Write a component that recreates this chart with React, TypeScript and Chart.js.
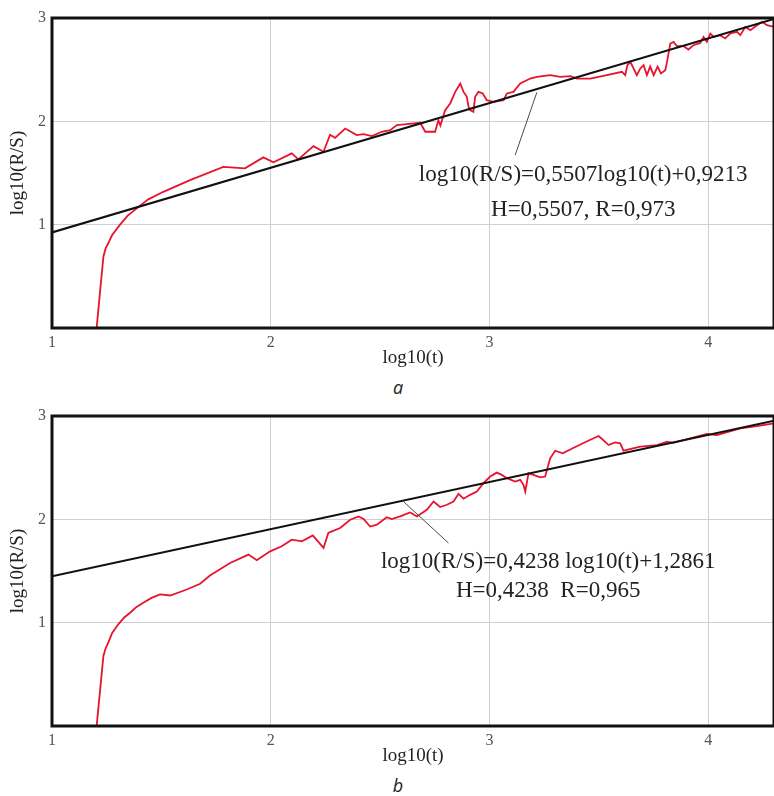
import React, { useEffect, useRef } from "react";
import { Chart, registerables } from "chart.js";

Chart.register(...registerables);

// ---- axes ----
const xTicks = [1, 2, 3, 4];
const yTicks = [0, 1, 2, 3];
const xMin = 1;
const xMax = 4.3;
const yMin = 0;
const yMax = 3;
const xTitle = "log10(t)";
const yTitle = "log10(R/S)";

// ---- panel a ----
const aLogT = [
  1.204, 1.22, 1.235, 1.245, 1.257, 1.275, 1.311, 1.345, 1.387, 1.44, 1.509, 1.631, 1.783, 1.882, 1.966, 2.012, 2.096, 2.126, 2.195, 2.241,
  2.271, 2.294, 2.34, 2.393, 2.424, 2.462, 2.507, 2.546, 2.576, 2.622, 2.683, 2.706, 2.751, 2.766, 2.775,
  2.797, 2.82, 2.843, 2.866, 2.881, 2.896, 2.904, 2.911, 2.926, 2.934, 2.949, 2.969, 2.987, 3.018, 3.064,
  3.079, 3.109, 3.14, 3.186, 3.216, 3.277, 3.323, 3.369, 3.399, 3.46, 3.536, 3.605, 3.62, 3.63, 3.643,
  3.658, 3.673, 3.689, 3.704, 3.719, 3.734, 3.75, 3.768, 3.783, 3.803, 3.811, 3.826, 3.841, 3.856, 3.887,
  3.909, 3.932, 3.963, 3.978, 3.993, 4.009, 4.024, 4.054, 4.077, 4.1, 4.131, 4.146, 4.169, 4.192, 4.222,
  4.245, 4.268, 4.3,
];
const aLogRS = [
  0, 0.36, 0.69, 0.77, 0.82, 0.9, 1.0, 1.085, 1.158, 1.245, 1.318, 1.431, 1.56, 1.545, 1.651, 1.603, 1.69, 1.632, 1.76, 1.705,
  1.87, 1.84, 1.93, 1.867, 1.876, 1.857, 1.899, 1.915, 1.963, 1.973, 1.986, 1.899, 1.899, 2.01, 1.96,
  2.108, 2.173, 2.285, 2.366, 2.285, 2.237, 2.14, 2.108, 2.092, 2.237, 2.285, 2.27, 2.205, 2.189, 2.205,
  2.27, 2.285, 2.366, 2.414, 2.43, 2.447, 2.43, 2.437, 2.414, 2.414, 2.447, 2.479, 2.447, 2.544, 2.576,
  2.512, 2.447, 2.512, 2.544, 2.447, 2.53, 2.447, 2.53, 2.463, 2.495, 2.576, 2.753, 2.769, 2.727, 2.727,
  2.695, 2.737, 2.759, 2.817, 2.769, 2.85, 2.817, 2.834, 2.802, 2.85, 2.866, 2.834, 2.914, 2.882, 2.93,
  2.963, 2.93, 2.914,
];
const aFitT = [1, 4.3];
const aFitRS = [0.925, 2.99];
const aEquation = "log10(R/S)=0,5507log10(t)+0,9213";
const aStats = "H=0,5507, R=0,973";
const aTextAt = [3.428, 1.48, 1.141]; // x, y line 1, y line 2 (data units)
const aLeader = [3.117, 1.673, 3.216, 2.28]; // from (x,y) to (x,y)

// ---- panel b ----
const bLogT = [
  1.204, 1.22, 1.235, 1.245, 1.257, 1.275, 1.303, 1.33, 1.357, 1.385, 1.417, 1.455, 1.494, 1.54, 1.616, 1.677, 1.722, 1.814, 1.898, 1.936, 1.997,
  2.05, 2.096, 2.142, 2.192, 2.241, 2.263, 2.279, 2.317, 2.363, 2.401, 2.424, 2.454, 2.485, 2.53, 2.553,
  2.591, 2.637, 2.668, 2.713, 2.744, 2.774, 2.805, 2.835, 2.858, 2.881, 2.911, 2.942, 2.972, 3.003, 3.033,
  3.056, 3.079, 3.117, 3.14, 3.155, 3.163, 3.17, 3.178, 3.2, 3.231, 3.254, 3.277, 3.3, 3.334, 3.38,
  3.441, 3.498, 3.513, 3.544, 3.574, 3.597, 3.612, 3.689, 3.765, 3.811, 3.84, 3.917, 3.993, 4.039, 4.146,
  4.222, 4.3,
];
const bLogRS = [
  0, 0.35, 0.678, 0.75, 0.807, 0.9, 0.984, 1.05, 1.096, 1.15, 1.193, 1.24, 1.273, 1.263, 1.321, 1.376, 1.456, 1.578, 1.659, 1.604, 1.69,
  1.739, 1.803, 1.787, 1.845, 1.723, 1.868, 1.883, 1.916, 1.996, 2.028, 2.003, 1.93, 1.948, 2.02, 2.003,
  2.028, 2.067, 2.028, 2.093, 2.173, 2.119, 2.141, 2.173, 2.247, 2.2, 2.237, 2.269, 2.35, 2.414, 2.452,
  2.43, 2.398, 2.366, 2.382, 2.334, 2.269, 2.35, 2.447, 2.43, 2.406, 2.414, 2.59, 2.664, 2.639, 2.688,
  2.751, 2.806, 2.78, 2.719, 2.745, 2.735, 2.664, 2.703, 2.719, 2.751, 2.74, 2.784, 2.826, 2.816, 2.88,
  2.903, 2.929,
];
const bFitT = [1, 4.3];
const bFitRS = [1.45, 2.954];
const bEquation = "log10(R/S)=0,4238 log10(t)+1,2861";
const bStats = "H=0,4238  R=0,965";
const bTextAt = [3.268, 1.591, 1.311];
const bLeader = [2.812, 1.771, 2.606, 2.173];

const SERIF = '"Liberation Serif", "Times New Roman", serif';

const framePlugin = {
  id: "frame",
  afterDatasetsDraw(chart: any, _args: any, opts: any) {
    const { ctx, chartArea, scales } = chart;
    const { left, top, right, bottom } = chartArea;
    const x = scales.x;
    const y = scales.y;
    ctx.save();
    // leader line
    const ld = opts.leader;
    ctx.strokeStyle = "#4a4a4a";
    ctx.lineWidth = 1;
    ctx.beginPath();
    ctx.moveTo(x.getPixelForValue(ld[0]), y.getPixelForValue(ld[1]));
    ctx.lineTo(x.getPixelForValue(ld[2]), y.getPixelForValue(ld[3]));
    ctx.stroke();
    // equation text
    ctx.font = `23px ${SERIF}`;
    ctx.fillStyle = "#222";
    ctx.textAlign = "center";
    ctx.textBaseline = "middle";
    const tx = x.getPixelForValue(opts.textAt[0]);
    ctx.fillText(opts.lines[0], tx, y.getPixelForValue(opts.textAt[1]));
    ctx.fillText(opts.lines[1], tx, y.getPixelForValue(opts.textAt[2]));
    // frame
    ctx.strokeStyle = "#111";
    ctx.lineWidth = 3;
    ctx.strokeRect(left, top, right - left, bottom - top);
    ctx.restore();
  },
};

function Panel(props: {
  t: number[];
  rs: number[];
  fitT: number[];
  fitRS: number[];
  lines: string[];
  textAt: number[];
  leader: number[];
}) {
  const ref = useRef<HTMLCanvasElement | null>(null);
  useEffect(() => {
    if (!ref.current) return;
    const chart = new Chart(ref.current, {
      type: "line",
      data: {
        datasets: [
          {
            data: props.fitT.map((v, i) => ({ x: v, y: props.fitRS[i] })),
            borderColor: "#111",
            borderWidth: 2,
            pointRadius: 0,
            tension: 0,
          },
          {
            data: props.t.map((v, i) => ({ x: v, y: props.rs[i] })),
            borderColor: "#e8132e",
            borderWidth: 1.8,
            pointRadius: 0,
            tension: 0,
          },
        ],
      },
      options: {
        responsive: false,
        animation: false,
        layout: { padding: { left: 0, right: 0, top: 18, bottom: 0 } },
        plugins: {
          legend: { display: false },
          tooltip: { enabled: false },
          frame: { lines: props.lines, textAt: props.textAt, leader: props.leader },
        } as any,
        scales: {
          x: {
            type: "linear",
            min: xMin,
            max: xMax,
            afterBuildTicks: (s: any) => {
              s.ticks = xTicks.map((v) => ({ value: v }));
            },
            afterFit: (s: any) => {
              s.height = 44;
            },
            grid: { color: "#cfcfcf", lineWidth: 1, drawTicks: false },
            border: { display: false },
            ticks: {
              autoSkip: false,
              maxRotation: 0,
              padding: 5,
              color: "#555",
              font: { family: SERIF, size: 16 },
              callback: (v: any) => String(v),
            },
            title: {
              display: true,
              text: xTitle,
              color: "#222",
              font: { family: SERIF, size: 19 },
              padding: { top: 0, bottom: 3 },
            },
          },
          y: {
            type: "linear",
            min: yMin,
            max: yMax,
            afterBuildTicks: (s: any) => {
              s.ticks = yTicks.map((v) => ({ value: v }));
            },
            afterFit: (s: any) => {
              s.width = 52;
            },
            grid: { color: "#cfcfcf", lineWidth: 1, drawTicks: false },
            border: { display: false },
            ticks: {
              padding: 6,
              color: "#555",
              font: { family: SERIF, size: 16 },
              callback: (v: any) => (v === 0 ? "" : String(v)),
            },
            title: {
              display: true,
              text: yTitle,
              color: "#222",
              font: { family: SERIF, size: 19 },
              padding: { top: 7, bottom: 0 },
            },
          },
        },
      } as any,
      plugins: [framePlugin],
    });
    return () => chart.destroy();
  }, []);
  return <canvas ref={ref} width={774} height={372} style={{ display: "block" }} />;
}

const capStyle: React.CSSProperties = {
  position: "absolute",
  left: 378,
  width: 40,
  textAlign: "center",
  fontFamily: '"Open Sans", "DejaVu Sans", sans-serif',
  fontStyle: "italic",
  fontSize: 18,
  lineHeight: "20px",
  color: "#222",
};

export default function App() {
  return (
    <div style={{ position: "absolute", left: 0, top: 0, width: 774, height: 796, background: "#fff", overflow: "hidden" }}>
      <div style={{ position: "absolute", left: 0, top: 0 }}>
        <Panel t={aLogT} rs={aLogRS} fitT={aFitT} fitRS={aFitRS} lines={[aEquation, aStats]} textAt={aTextAt} leader={aLeader} />
      </div>
      <div style={{ ...capStyle, top: 377 }}>a</div>
      <div style={{ position: "absolute", left: 0, top: 398 }}>
        <Panel t={bLogT} rs={bLogRS} fitT={bFitT} fitRS={bFitRS} lines={[bEquation, bStats]} textAt={bTextAt} leader={bLeader} />
      </div>
      <div style={{ ...capStyle, top: 775 }}>b</div>
    </div>
  );
}
